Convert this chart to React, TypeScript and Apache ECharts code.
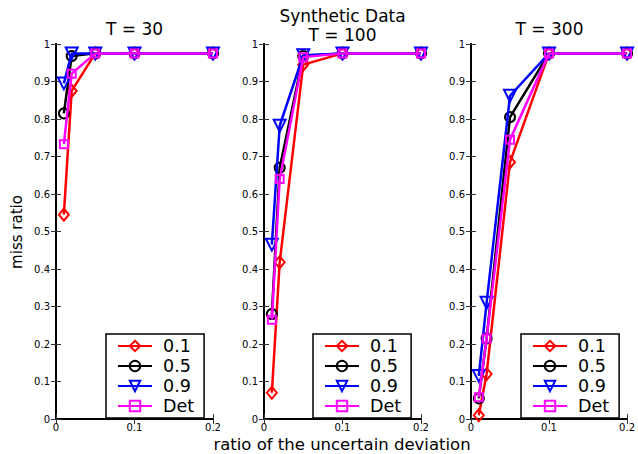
import React, { useEffect, useRef } from "react";
import * as echarts from "echarts";

const xVals = [0.01, 0.02, 0.05, 0.1, 0.2];
const seriesNames = ["0.1", "0.5", "0.9", "Det"];
const panelTitles = ["T = 30", "T = 100", "T = 300"];
const mainTitle = "Synthetic Data";
const yLabel = "miss ratio";
const xLabel = "ratio of the uncertain deviation";

// T = 30
const t30_01 = [0.545, 0.875, 0.975, 0.975, 0.975];
const t30_05 = [0.815, 0.968, 0.975, 0.975, 0.975];
const t30_09 = [0.895, 0.975, 0.975, 0.975, 0.975];
const t30_det = [0.733, 0.921, 0.975, 0.975, 0.975];
// T = 100
const t100_01 = [0.07, 0.418, 0.945, 0.975, 0.975];
const t100_05 = [0.28, 0.67, 0.968, 0.975, 0.975];
const t100_09 = [0.465, 0.782, 0.97, 0.975, 0.975];
const t100_det = [0.265, 0.64, 0.965, 0.975, 0.975];
// T = 300
const t300_01 = [0.01, 0.12, 0.685, 0.975, 0.975];
const t300_05 = [0.055, 0.215, 0.805, 0.975, 0.975];
const t300_09 = [0.115, 0.31, 0.862, 0.975, 0.975];
const t300_det = [0.058, 0.215, 0.745, 0.975, 0.975];

const panels = [
  [t30_01, t30_05, t30_09, t30_det],
  [t100_01, t100_05, t100_09, t100_det],
  [t300_01, t300_05, t300_09, t300_det],
];

const FONT = "'DejaVu Sans', Verdana, sans-serif";
const colors = ["#ff0000", "#000000", "#0000ff", "#ff00ff"];
const symbols = ["diamond", "circle", "triangle", "rect"];
const symbolSizes = [[10, 12], 10, 12, 8];
const symbolRotates = [0, 0, 180, 0];

const gridLefts = [56, 264, 471];
const gridWidth = 157;
const gridTop = 44;
const gridHeight = 375;
const legendLefts = [106, 313, 521];

export default function App() {
  const ref = useRef<HTMLDivElement>(null);
  useEffect(() => {
    if (!ref.current) return;
    const chart = echarts.init(ref.current, null, { renderer: "svg" });

    const grids: any[] = [];
    const xAxes: any[] = [];
    const yAxes: any[] = [];
    const series: any[] = [];
    const legends: any[] = [];

    panels.forEach((panel, i) => {
      grids.push({
        left: gridLefts[i],
        top: gridTop,
        width: gridWidth,
        height: gridHeight,
        show: false,
      });
      const axisLine = { show: true, lineStyle: { color: "#000", width: 2 } };
      const tick = { show: true, inside: true, length: 5, lineStyle: { color: "#333", width: 1 } };
      xAxes.push({
        type: "value",
        gridIndex: i,
        position: "bottom",
        min: 0,
        max: 0.2,
        interval: 0.1,
        axisLine,
        axisTick: tick,
        splitLine: { show: false },
        axisLabel: { color: "#000", fontSize: 10, fontFamily: FONT, margin: 3, lineHeight: 11 },
      });
      xAxes.push({
        type: "value",
        gridIndex: i,
        position: "top",
        min: 0,
        max: 0.2,
        interval: 0.1,
        axisLine,
        axisTick: tick,
        splitLine: { show: false },
        axisLabel: { show: false },
      });
      yAxes.push({
        type: "value",
        gridIndex: i,
        position: "left",
        min: 0,
        max: 1,
        interval: 0.1,
        axisLine,
        axisTick: tick,
        splitLine: { show: false },
        axisLabel: { color: "#000", fontSize: 10, fontFamily: FONT, margin: 6 },
      });
      yAxes.push({
        type: "value",
        gridIndex: i,
        position: "right",
        min: 0,
        max: 1,
        interval: 0.1,
        axisLine,
        axisTick: tick,
        splitLine: { show: false },
        axisLabel: { show: false },
      });

      panel.forEach((vals, k) => {
        series.push({
          type: "line",
          name: seriesNames[k],
          xAxisIndex: i * 2,
          yAxisIndex: i * 2,
          data: xVals.map((x, j) => [x, vals[j]]),
          symbol: symbols[k],
          symbolSize: symbolSizes[k],
          symbolRotate: symbolRotates[k],
          showAllSymbol: true,
          lineStyle: { color: colors[k], width: 2.5 },
          itemStyle: { color: "rgba(0,0,0,0)", borderColor: colors[k], borderWidth: 2 },
          emphasis: { disabled: true },
          z: 2 + k,
        });
      });

      legends.push({
        orient: "vertical",
        left: legendLefts[i],
        top: 334,
        data: seriesNames,
        itemWidth: 34,
        itemHeight: 13,
        itemGap: 2,
        itemStyle: { color: "rgba(0,0,0,0)" },
        padding: [3, 10, 3, 11],
        borderColor: "#000",
        borderWidth: 1.5,
        backgroundColor: "#fff",
        selectedMode: false,
        textStyle: { fontSize: 17.5, fontFamily: FONT, color: "#000", padding: [0, 0, 0, 6] },
        z: 10,
      });
    });

    const cx = (i: number) => gridLefts[i] + gridWidth / 2;
    const graphic: any[] = [
      { type: "text", x: cx(0), y: 29, style: { text: panelTitles[0], font: `17px ${FONT}`, fill: "#000", textAlign: "center", textVerticalAlign: "middle" } },
      { type: "text", x: cx(1), y: 16, style: { text: mainTitle, font: `17px ${FONT}`, fill: "#000", textAlign: "center", textVerticalAlign: "middle" } },
      { type: "text", x: cx(1), y: 35, style: { text: panelTitles[1], font: `17px ${FONT}`, fill: "#000", textAlign: "center", textVerticalAlign: "middle" } },
      { type: "text", x: cx(2), y: 29, style: { text: panelTitles[2], font: `17px ${FONT}`, fill: "#000", textAlign: "center", textVerticalAlign: "middle" } },
      { type: "text", x: 17, y: 232, rotation: Math.PI / 2, style: { text: yLabel, font: `15px ${FONT}`, fill: "#000", textAlign: "center", textVerticalAlign: "middle" } },
      { type: "text", x: 342, y: 444, style: { text: xLabel, font: `16.5px ${FONT}`, lineHeight: 17, fill: "#000", textAlign: "center", textVerticalAlign: "middle" } },
    ];

    chart.setOption({
      animation: false,
      backgroundColor: "#fff",
      grid: grids,
      xAxis: xAxes,
      yAxis: yAxes,
      series,
      legend: legends,
      graphic,
    });
    return () => chart.dispose();
  }, []);
  return <div ref={ref} style={{ width: 638, height: 454, position: "absolute", left: 0, top: 0 }} />;
}
